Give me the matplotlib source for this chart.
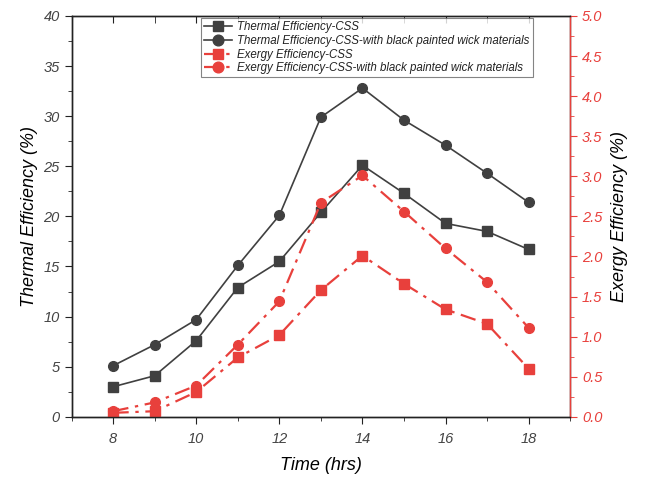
import matplotlib
matplotlib.use("Agg")
import matplotlib.pyplot as plt
from matplotlib.lines import TICKDOWN
from matplotlib.ticker import MultipleLocator

hours = [8, 9, 10, 11, 12, 13, 14, 15, 16, 17, 18]
thermal_css = [3.0, 4.1, 7.6, 12.9, 15.5, 20.4, 25.1, 22.3, 19.3, 18.5, 16.7]
thermal_black = [5.1, 7.2, 9.7, 15.1, 20.1, 29.9, 32.8, 29.6, 27.1, 24.3, 21.4]
exergy_css = [0.05, 0.07, 0.31, 0.74, 1.02, 1.58, 2.01, 1.66, 1.34, 1.16, 0.60]
exergy_black = [0.07, 0.18, 0.39, 0.90, 1.44, 2.67, 3.01, 2.56, 2.10, 1.68, 1.11]

labels = [
    "Thermal Efficiency-CSS",
    "Thermal Efficiency-CSS-with black painted wick materials",
    "Exergy Efficiency-CSS",
    "Exergy Efficiency-CSS-with black painted wick materials",
]

gray = "#404040"
red = "#e8403c"
dashdot = (0, (7, 3, 1.5, 3))

fig = plt.figure(figsize=(6.45, 4.83), dpi=100)
ax = fig.add_axes([0.111, 0.137, 0.773, 0.830])
ax2 = ax.twinx()

l1, = ax.plot(hours, thermal_css, color=gray, lw=1.2, marker="s", ms=6.5)
l2, = ax.plot(hours, thermal_black, color=gray, lw=1.2, marker="o", ms=7)
l3, = ax2.plot(hours, exergy_css, color=red, lw=1.6, ls=dashdot, marker="s", ms=6.5)
l4, = ax2.plot(hours, exergy_black, color=red, lw=1.6, ls=dashdot, marker="o", ms=7)

ax.set_xlim(7, 19)
ax.set_ylim(0, 40)
ax2.set_ylim(0, 5)
ax.xaxis.set_major_locator(MultipleLocator(2))
ax.xaxis.set_minor_locator(MultipleLocator(1))
ax.yaxis.set_major_locator(MultipleLocator(5))
ax.yaxis.set_minor_locator(MultipleLocator(2.5))
ax2.yaxis.set_major_locator(MultipleLocator(0.5))
ax2.yaxis.set_minor_locator(MultipleLocator(0.25))
ax2.yaxis.set_major_formatter(plt.FormatStrFormatter("%.1f"))

lab_font = dict(fontsize=13, style="italic", family="Liberation Sans")
ax.set_xlabel("Time (hrs)", labelpad=8, **lab_font)
ax.set_ylabel("Thermal Efficiency (%)", labelpad=4, **lab_font)
ax2.set_ylabel("Exergy Efficiency (%)", labelpad=6, **lab_font)

for a in (ax, ax2):
    for s in a.spines.values():
        s.set_color("#222222")
        s.set_linewidth(1.0)
ax.tick_params(axis="both", which="major", direction="out", length=5, labelsize=10.5,
               labelcolor="#444444", color="#222222")
ax.tick_params(axis="both", which="minor", direction="out", length=3, color="#222222")
ax.tick_params(axis="x", which="major", pad=6)
ax.tick_params(axis="x", which="both", top=True)

ax2.spines["right"].set_color(red)
ax2.tick_params(axis="y", which="major", direction="out", length=5, labelsize=10.5,
                colors=red)
ax2.tick_params(axis="y", which="minor", direction="out", length=3, colors=red)
for t in ax.get_xticklabels() + ax.get_yticklabels() + ax2.get_yticklabels():
    t.set_fontstyle("italic")
    t.set_family("Liberation Sans")

# top ticks point into the plot
for tk in ax.xaxis.get_major_ticks() + ax.xaxis.get_minor_ticks():
    tk.tick2line.set_marker(TICKDOWN)
    tk.tick2line.set_markersize(5)

leg = ax.legend([l1, l2, l3, l4], labels, loc="upper left",
                bbox_to_anchor=(0.255, 1.0), frameon=True, fancybox=False,
                prop=dict(size=8.3, style="italic", family="Liberation Sans"),
                handlelength=2.4, labelspacing=0.15, borderpad=0.25, handletextpad=0.5,
                borderaxespad=0.2, markerscale=1.1)
leg.get_frame().set_edgecolor("#666666")
leg.get_frame().set_linewidth(0.8)
for t in leg.get_texts():
    t.set_color("#222222")

fig.savefig("out.png", dpi=100)
